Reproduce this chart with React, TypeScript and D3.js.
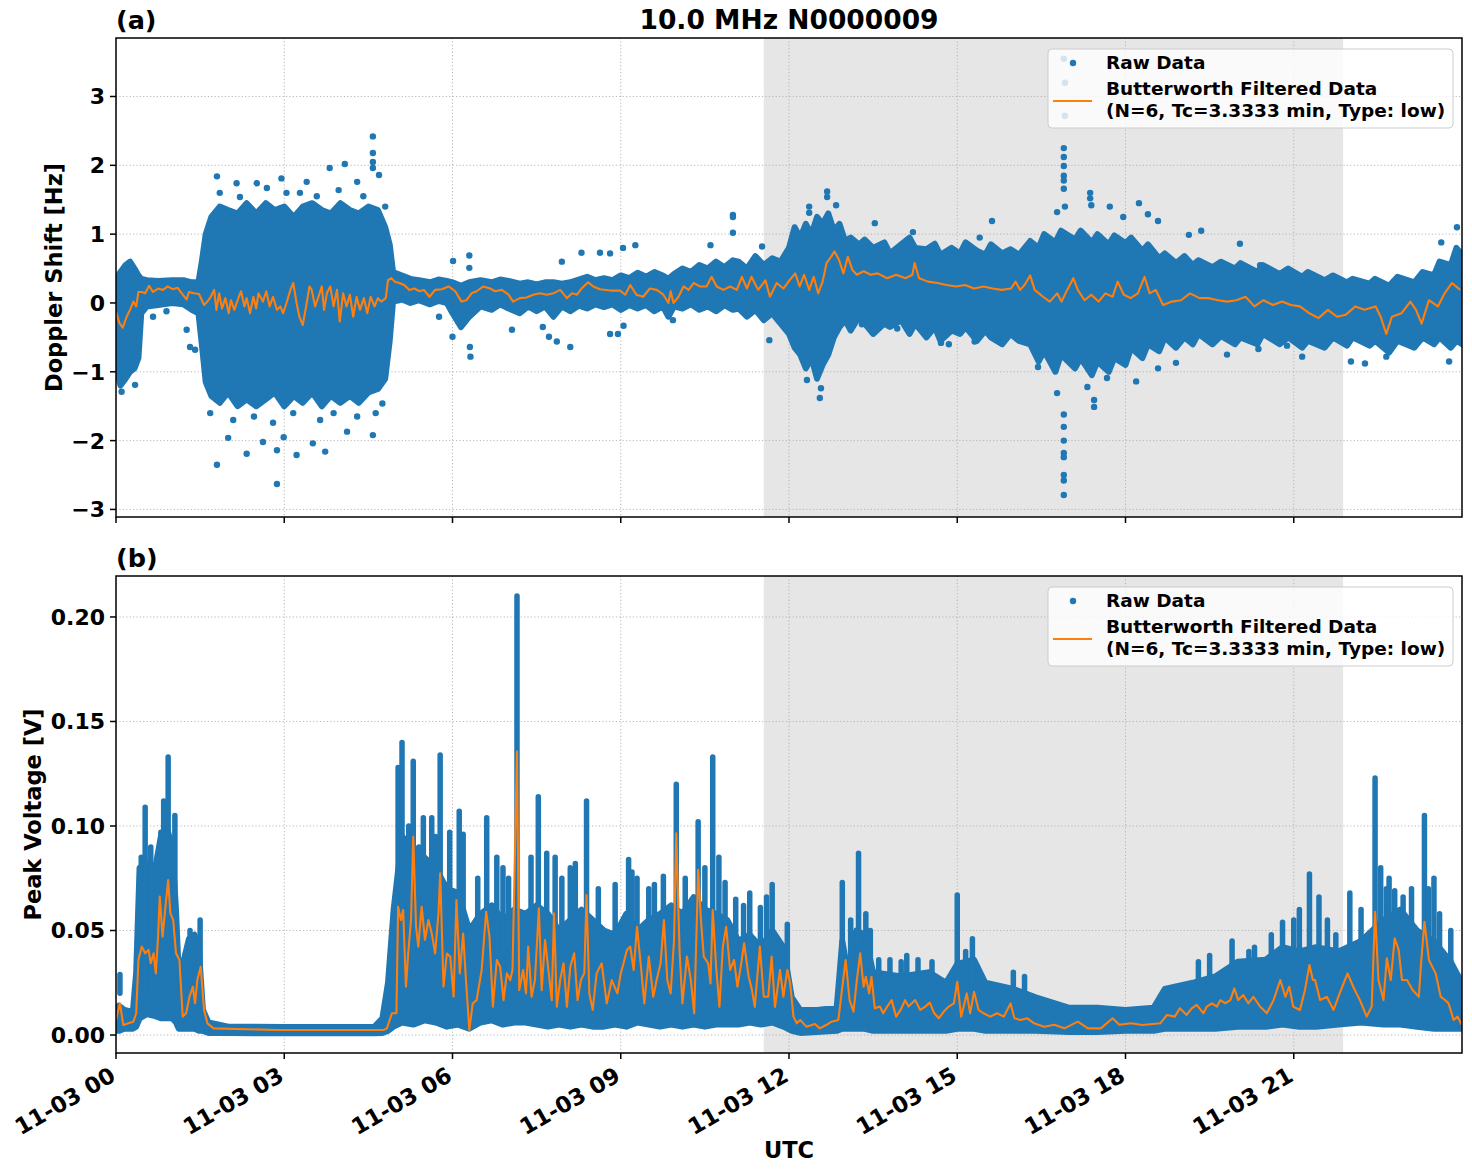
import { useEffect, useRef } from 'react';
import * as d3 from 'd3';

type Band = [number, number, number];
type Pt = [number, number];

const WIDTH = 1472;
const HEIGHT = 1172;

const BLUE = '#1f77b4';
const ORANGE = '#ff7f0e';
const FONT = '"DejaVu Sans", Verdana, sans-serif';

const hourTicks = [0, 3, 6, 9, 12, 15, 18, 21];
const hourTickLabels = ['11-03 00', '11-03 03', '11-03 06', '11-03 09', '11-03 12', '11-03 15', '11-03 18', '11-03 21'];
const dopplerTicks = [-3, -2, -1, 0, 1, 2, 3];
const voltageTicks = [0, 0.05, 0.1, 0.15, 0.2];

// grey daylight span, in hours UTC
const shadedHours = [11.55, 21.88];

// raw Doppler shift, dense part: [hour, lower, upper] in Hz
const dopplerBand: Band[] = [
  [0.0, -0.95, 0.35], [0.08, -1.2, 0.45], [0.17, -1.1, 0.55], [0.25, -1.0, 0.6], [0.33, -0.95, 0.5],
  [0.4, -0.8, 0.4], [0.45, -0.15, 0.35], [0.55, -0.05, 0.33], [0.75, -0.03, 0.32], [1.0, 0.0, 0.33],
  [1.2, -0.02, 0.33], [1.35, -0.1, 0.3], [1.47, -0.15, 0.3], [1.53, -0.6, 0.6], [1.6, -1.15, 1.0],
  [1.7, -1.35, 1.25], [1.85, -1.45, 1.4], [2.0, -1.3, 1.35], [2.17, -1.5, 1.3], [2.33, -1.4, 1.45],
  [2.5, -1.5, 1.3], [2.67, -1.4, 1.45], [2.83, -1.3, 1.35], [3.0, -1.5, 1.4], [3.17, -1.35, 1.25],
  [3.33, -1.45, 1.4], [3.5, -1.3, 1.45], [3.67, -1.5, 1.35], [3.83, -1.35, 1.3], [4.0, -1.45, 1.45],
  [4.17, -1.35, 1.35], [4.33, -1.45, 1.3], [4.5, -1.3, 1.4], [4.67, -1.25, 1.35], [4.8, -1.1, 1.1],
  [4.88, -0.55, 0.85], [4.94, 0.02, 0.45], [5.1, 0.05, 0.4], [5.25, 0.0, 0.35], [5.4, 0.04, 0.33],
  [5.6, -0.02, 0.3], [5.75, 0.03, 0.34], [5.9, 0.0, 0.32], [6.0, -0.15, 0.3], [6.15, -0.35, 0.25],
  [6.3, -0.2, 0.3], [6.5, -0.05, 0.33], [6.7, -0.1, 0.3], [6.85, -0.02, 0.34], [7.0, -0.08, 0.32],
  [7.2, -0.15, 0.28], [7.35, -0.05, 0.3], [7.5, -0.12, 0.27], [7.65, -0.05, 0.3], [7.8, -0.2, 0.3],
  [7.95, -0.05, 0.28], [8.1, -0.12, 0.3], [8.25, -0.04, 0.34], [8.4, -0.08, 0.38], [8.55, -0.02, 0.33],
  [8.7, -0.06, 0.36], [8.85, -0.02, 0.33], [9.0, -0.1, 0.4], [9.15, -0.03, 0.36], [9.3, -0.08, 0.44],
  [9.45, -0.03, 0.38], [9.6, -0.12, 0.45], [9.75, -0.05, 0.4], [9.85, -0.2, 0.35], [9.95, -0.05, 0.42],
  [10.1, -0.08, 0.5], [10.25, -0.02, 0.45], [10.4, -0.1, 0.55], [10.55, -0.05, 0.5], [10.7, -0.12, 0.6],
  [10.85, -0.03, 0.52], [11.0, -0.1, 0.62], [11.1, -0.08, 0.6], [11.25, -0.2, 0.5], [11.4, -0.1, 0.68],
  [11.55, -0.25, 0.55], [11.7, -0.15, 0.65], [11.85, -0.3, 0.6], [12.0, -0.45, 0.8], [12.1, -0.65, 1.1],
  [12.2, -0.75, 0.95], [12.3, -0.95, 1.15], [12.4, -0.8, 1.0], [12.5, -1.1, 1.25], [12.6, -0.9, 1.15],
  [12.7, -0.75, 1.3], [12.8, -0.5, 1.05], [12.9, -0.35, 1.15], [13.0, -0.25, 0.9], [13.1, -0.4, 0.95],
  [13.25, -0.2, 0.85], [13.35, -0.3, 0.92], [13.5, -0.45, 0.8], [13.7, -0.3, 0.88], [13.8, -0.35, 0.72],
  [14.0, -0.25, 0.85], [14.15, -0.45, 0.95], [14.25, -0.3, 0.8], [14.45, -0.5, 0.78], [14.6, -0.35, 0.86],
  [14.7, -0.55, 0.7], [14.9, -0.4, 0.8], [15.05, -0.45, 0.72], [15.15, -0.35, 0.88], [15.35, -0.55, 0.76],
  [15.5, -0.4, 0.7], [15.6, -0.5, 0.85], [15.8, -0.6, 0.72], [15.95, -0.45, 0.78], [16.1, -0.55, 0.7],
  [16.3, -0.6, 0.9], [16.45, -0.85, 0.8], [16.55, -0.7, 1.0], [16.75, -1.0, 0.88], [16.85, -0.75, 1.05],
  [17.1, -0.95, 0.92], [17.2, -0.8, 1.05], [17.4, -1.05, 0.88], [17.5, -0.85, 1.0], [17.7, -1.0, 0.85],
  [17.8, -0.8, 0.98], [18.0, -0.9, 0.87], [18.1, -0.65, 0.95], [18.3, -0.8, 0.76], [18.4, -0.6, 0.85],
  [18.6, -0.7, 0.65], [18.7, -0.5, 0.72], [18.9, -0.65, 0.58], [19.05, -0.5, 0.68], [19.2, -0.6, 0.55],
  [19.3, -0.45, 0.62], [19.55, -0.6, 0.52], [19.7, -0.48, 0.6], [19.95, -0.6, 0.5], [20.05, -0.5, 0.58],
  [20.35, -0.6, 0.45], [20.45, -0.45, 0.55], [20.75, -0.6, 0.42], [20.9, -0.5, 0.5], [21.15, -0.65, 0.38],
  [21.25, -0.55, 0.45], [21.55, -0.65, 0.33], [21.7, -0.5, 0.4], [21.95, -0.62, 0.3], [22.05, -0.5, 0.35],
  [22.35, -0.62, 0.28], [22.45, -0.55, 0.35], [22.7, -0.72, 0.25], [22.85, -0.55, 0.38], [23.15, -0.65, 0.3],
  [23.3, -0.5, 0.45], [23.5, -0.6, 0.4], [23.6, -0.5, 0.6], [23.8, -0.65, 0.55], [23.9, -0.55, 0.8],
  [24.0, -0.6, 0.7],
];

// raw Doppler shift, scattered samples outside the dense part: [hour, Hz]
const dopplerOutliers: Pt[] = [
  [0.1, -1.29], [0.34, -1.19], [0.25, 0.51], [0.66, -0.2], [0.9, -0.12], [1.26, -0.39], [1.32, -0.64], [1.41, -0.68],
  [1.8, -2.35], [2.0, -1.96], [2.33, -2.19], [2.62, -2.02], [2.87, -2.63], [2.87, -2.14], [2.99, -1.95], [3.22, -2.21],
  [3.51, -2.04], [3.73, -2.16], [4.12, -1.87], [4.58, -1.92],
  [1.68, -1.6], [2.09, -1.7], [2.46, -1.65], [2.8, -1.74], [3.16, -1.6], [3.64, -1.7], [3.88, -1.6], [4.3, -1.65], [4.63, -1.6], [4.75, -1.46],
  [1.8, 1.84], [2.15, 1.74], [2.51, 1.74], [2.95, 1.81], [3.04, 1.6], [3.4, 1.76], [3.81, 1.96], [4.08, 2.02], [4.3, 1.76],
  [4.58, 2.42], [4.58, 2.18], [4.58, 2.05], [4.58, 1.96], [4.69, 1.86],
  [1.85, 1.6], [2.21, 1.54], [2.69, 1.67], [3.28, 1.6], [3.58, 1.55], [3.97, 1.64], [4.41, 1.55], [4.8, 1.4],
  [5.76, -0.2], [6.01, 0.61], [6.3, 0.69], [6.3, 0.51], [6.0, -0.49], [6.31, -0.64], [6.32, -0.78],
  [7.06, -0.39], [7.61, -0.35], [7.72, -0.49], [7.86, -0.56], [8.1, -0.64], [7.95, 0.6], [8.3, 0.73], [8.63, 0.73],
  [8.81, 0.72], [8.81, -0.45], [8.95, -0.45], [9.04, 0.8], [9.26, 0.84], [9.05, -0.33], [9.93, -0.25], [10.6, 0.84],
  [11.0, 1.28], [11.0, 1.25], [11.0, 1.02], [11.65, -0.54], [11.52, 0.82],
  [12.68, 1.62], [12.68, 1.54], [12.84, 1.42], [12.36, 1.4], [12.36, 1.31], [12.55, -1.38], [12.57, -1.24], [12.32, -1.12],
  [13.53, 1.16], [14.21, 1.03], [15.62, 1.19], [15.4, 0.95], [14.71, -0.58], [14.85, -0.6], [13.3, -0.31], [13.93, -0.37], [15.31, -0.56],
  [16.78, 1.32], [16.92, 1.4], [17.37, 1.6], [17.37, 1.52], [17.39, 1.42], [17.72, 1.4], [17.96, 1.25], [18.24, 1.45],
  [18.4, 1.29], [18.58, 1.19], [19.35, 1.05], [19.13, 0.99], [20.04, 0.86], [20.4, 0.55],
  [16.44, -0.93], [16.78, -1.31], [17.32, -1.22], [17.44, -1.41], [17.44, -1.51], [17.67, -1.09], [18.19, -1.14],
  [18.58, -0.95], [18.9, -0.87], [19.81, -0.75], [20.37, -0.67], [20.88, -0.62], [21.15, -0.78], [22.02, -0.85],
  [22.27, -0.88], [22.65, -0.78], [23.77, -0.85], [23.63, 0.88], [23.91, 1.1], [22.88, 0.36],
  [16.9, 3.55], [16.92, 3.2], [16.92, 2.72], [16.9, 2.25], [16.9, 2.12], [16.9, 1.99], [16.9, 1.85], [16.9, 1.78],
  [16.9, 1.66], [16.9, -1.62], [16.9, -1.8], [16.9, -2.0], [16.9, -2.18], [16.9, -2.24], [16.9, -2.5], [16.9, -2.58], [16.9, -2.79],
];

// Butterworth low-pass output of the Doppler shift: [hour, Hz]
const dopplerFiltered: Pt[] = [
  [0.0, -0.13], [0.06, -0.29], [0.12, -0.36], [0.19, -0.2], [0.25, -0.1], [0.31, 0.02], [0.36, -0.05], [0.4, 0.16],
  [0.46, 0.16], [0.52, 0.14], [0.59, 0.25], [0.66, 0.16], [0.75, 0.21], [0.84, 0.19], [0.92, 0.24], [1.01, 0.2],
  [1.1, 0.22], [1.19, 0.12], [1.26, 0.05], [1.3, 0.16], [1.39, 0.14], [1.48, 0.13], [1.57, -0.03], [1.63, 0.02],
  [1.69, 0.09], [1.75, 0.19], [1.79, -0.1], [1.84, 0.14], [1.89, -0.08], [1.95, 0.07], [2.01, -0.15], [2.05, 0.04],
  [2.11, -0.1], [2.19, 0.09], [2.23, 0.17], [2.29, -0.05], [2.33, 0.07], [2.39, -0.15], [2.45, 0.09], [2.5, -0.08],
  [2.54, 0.14], [2.62, 0.02], [2.68, 0.17], [2.74, -0.05], [2.8, 0.09], [2.87, -0.1], [2.93, -0.05], [2.98, -0.15],
  [3.04, 0.0], [3.11, 0.19], [3.16, 0.29], [3.22, 0.0], [3.27, -0.2], [3.33, -0.32], [3.39, -0.05], [3.45, 0.24],
  [3.49, 0.19], [3.55, -0.05], [3.61, 0.09], [3.67, 0.24], [3.71, -0.1], [3.76, 0.14], [3.82, 0.24], [3.88, -0.05],
  [3.94, 0.19], [3.99, -0.27], [4.05, 0.14], [4.11, -0.05], [4.17, 0.12], [4.23, -0.2], [4.29, 0.09], [4.35, -0.1],
  [4.42, 0.07], [4.48, -0.15], [4.54, 0.09], [4.61, -0.05], [4.67, 0.07], [4.73, 0.02], [4.81, 0.07], [4.85, 0.33],
  [4.91, 0.36], [4.97, 0.31], [5.05, 0.29], [5.14, 0.26], [5.23, 0.19], [5.32, 0.21], [5.41, 0.17], [5.49, 0.19],
  [5.59, 0.09], [5.69, 0.19], [5.81, 0.2], [5.93, 0.24], [6.05, 0.17], [6.16, 0.02], [6.25, 0.04], [6.34, 0.14],
  [6.43, 0.17], [6.55, 0.24], [6.67, 0.21], [6.76, 0.17], [6.88, 0.19], [7.0, 0.12], [7.08, 0.02], [7.2, 0.07],
  [7.32, 0.08], [7.44, 0.12], [7.56, 0.14], [7.68, 0.12], [7.8, 0.14], [7.92, 0.19], [8.04, 0.07], [8.13, 0.14],
  [8.22, 0.12], [8.3, 0.21], [8.42, 0.3], [8.51, 0.24], [8.63, 0.2], [8.81, 0.18], [8.99, 0.18], [9.08, 0.12],
  [9.17, 0.26], [9.28, 0.12], [9.4, 0.09], [9.52, 0.21], [9.64, 0.19], [9.76, 0.12], [9.85, 0.0], [9.89, 0.17],
  [9.94, 0.0], [10.03, 0.09], [10.12, 0.24], [10.21, 0.19], [10.3, 0.29], [10.41, 0.24], [10.53, 0.24], [10.62, 0.38],
  [10.71, 0.24], [10.83, 0.19], [10.95, 0.24], [11.07, 0.19], [11.16, 0.38], [11.25, 0.21], [11.33, 0.38], [11.45, 0.19],
  [11.58, 0.33], [11.66, 0.09], [11.78, 0.29], [11.9, 0.21], [12.01, 0.33], [12.11, 0.43], [12.19, 0.24], [12.27, 0.41],
  [12.36, 0.19], [12.44, 0.38], [12.52, 0.14], [12.6, 0.31], [12.67, 0.58], [12.75, 0.67], [12.81, 0.75], [12.89, 0.63],
  [12.97, 0.43], [13.05, 0.67], [13.13, 0.48], [13.21, 0.41], [13.33, 0.46], [13.46, 0.41], [13.58, 0.43], [13.75, 0.36],
  [13.91, 0.41], [14.08, 0.36], [14.2, 0.41], [14.24, 0.58], [14.32, 0.36], [14.48, 0.31], [14.65, 0.29], [14.81, 0.26],
  [14.98, 0.24], [15.14, 0.26], [15.3, 0.21], [15.47, 0.24], [15.63, 0.21], [15.79, 0.19], [15.96, 0.21], [16.04, 0.31],
  [16.12, 0.19], [16.2, 0.26], [16.3, 0.4], [16.38, 0.19], [16.53, 0.09], [16.65, 0.02], [16.78, 0.14], [16.86, 0.02],
  [16.96, 0.19], [17.07, 0.36], [17.15, 0.19], [17.27, 0.04], [17.39, 0.12], [17.52, 0.02], [17.64, 0.14], [17.77, 0.09],
  [17.86, 0.31], [17.97, 0.12], [18.09, 0.07], [18.22, 0.14], [18.34, 0.38], [18.43, 0.14], [18.54, 0.19], [18.67, -0.03],
  [18.83, 0.02], [18.99, 0.04], [19.15, 0.14], [19.32, 0.07], [19.48, 0.07], [19.65, 0.04], [19.81, 0.02], [19.98, 0.04],
  [20.14, 0.09], [20.3, -0.05], [20.46, 0.04], [20.63, -0.03], [20.79, 0.02], [20.95, -0.03], [21.11, -0.05], [21.28, -0.15],
  [21.44, -0.22], [21.61, -0.1], [21.77, -0.2], [21.93, -0.17], [22.1, -0.05], [22.26, -0.1], [22.46, -0.05], [22.55, -0.2],
  [22.65, -0.45], [22.75, -0.2], [22.92, -0.15], [23.08, 0.02], [23.18, -0.1], [23.28, -0.3], [23.41, 0.04], [23.57, -0.05],
  [23.69, 0.14], [23.82, 0.29], [23.97, 0.19],
];

// raw peak voltage, dense part: [hour, lower, upper] in V
const voltageBand: Band[] = [
  [0.0, 0.002, 0.012], [0.05, 0.002, 0.014], [0.15, 0.003, 0.012], [0.3, 0.003, 0.011], [0.36, 0.004, 0.03],
  [0.42, 0.008, 0.08], [0.55, 0.01, 0.082], [0.7, 0.009, 0.08], [0.8, 0.008, 0.095], [0.9, 0.008, 0.1],
  [1.0, 0.008, 0.09], [1.07, 0.006, 0.06], [1.12, 0.003, 0.028], [1.2, 0.003, 0.035], [1.3, 0.003, 0.046],
  [1.4, 0.003, 0.048], [1.48, 0.002, 0.04], [1.55, 0.002, 0.012], [1.65, 0.001, 0.006], [2.0, 0.001, 0.004],
  [3.0, 0.0008, 0.0038], [4.6, 0.0008, 0.0038], [4.75, 0.001, 0.008], [4.85, 0.002, 0.025], [4.95, 0.004, 0.06],
  [5.1, 0.006, 0.095], [5.3, 0.005, 0.09], [5.5, 0.007, 0.085], [5.7, 0.006, 0.08], [5.9, 0.004, 0.07],
  [6.1, 0.005, 0.068], [6.3, 0.003, 0.05], [6.5, 0.006, 0.058], [6.7, 0.007, 0.062], [6.9, 0.005, 0.055],
  [7.1, 0.006, 0.06], [7.3, 0.006, 0.058], [7.5, 0.005, 0.062], [7.7, 0.004, 0.058], [7.9, 0.005, 0.05],
  [8.1, 0.004, 0.055], [8.3, 0.005, 0.06], [8.5, 0.004, 0.055], [8.7, 0.004, 0.05], [8.9, 0.005, 0.048],
  [9.1, 0.004, 0.058], [9.3, 0.006, 0.05], [9.5, 0.005, 0.055], [9.7, 0.004, 0.058], [9.9, 0.005, 0.062],
  [10.1, 0.004, 0.058], [10.3, 0.005, 0.066], [10.5, 0.004, 0.06], [10.7, 0.005, 0.058], [10.9, 0.005, 0.055],
  [11.1, 0.005, 0.045], [11.3, 0.006, 0.048], [11.5, 0.005, 0.042], [11.7, 0.006, 0.05], [11.9, 0.004, 0.042],
  [12.05, 0.002, 0.018], [12.2, 0.001, 0.012], [12.5, 0.0015, 0.012], [12.85, 0.002, 0.013], [12.95, 0.003, 0.045],
  [13.05, 0.003, 0.03], [13.2, 0.003, 0.05], [13.35, 0.003, 0.048], [13.5, 0.002, 0.03], [14.0, 0.002, 0.028],
  [14.5, 0.002, 0.03], [14.8, 0.002, 0.025], [15.0, 0.003, 0.034], [15.3, 0.003, 0.036], [15.5, 0.002, 0.025],
  [16.0, 0.002, 0.022], [16.4, 0.002, 0.018], [17.0, 0.0015, 0.013], [17.5, 0.0015, 0.013], [18.0, 0.002, 0.012],
  [18.5, 0.002, 0.013], [18.7, 0.003, 0.022], [19.2, 0.003, 0.025], [19.6, 0.003, 0.028], [20.0, 0.004, 0.035],
  [20.5, 0.004, 0.036], [20.8, 0.005, 0.042], [21.1, 0.004, 0.04], [21.4, 0.004, 0.042], [21.8, 0.005, 0.04],
  [22.2, 0.006, 0.045], [22.6, 0.005, 0.055], [22.9, 0.005, 0.06], [23.2, 0.004, 0.05], [23.5, 0.003, 0.045],
  [23.8, 0.003, 0.035], [24.0, 0.003, 0.025],
];

// short bursts of raw peak voltage rising above the dense part: [hour, top in V]
const voltageSpikes: Pt[] = [
  [0.07, 0.029], [0.45, 0.085], [0.52, 0.109], [0.62, 0.09], [0.8, 0.097], [0.85, 0.112], [0.93, 0.133], [1.05, 0.105],
  [1.32, 0.05], [1.5, 0.055], [5.03, 0.128], [5.1, 0.14], [5.22, 0.1], [5.3, 0.131], [5.4, 0.09], [5.48, 0.104],
  [5.63, 0.104], [5.7, 0.095], [5.78, 0.134], [5.95, 0.097], [6.12, 0.107], [6.19, 0.096], [6.45, 0.075], [6.61, 0.104],
  [6.79, 0.085], [6.9, 0.08], [7.0, 0.075], [7.15, 0.21], [7.4, 0.085], [7.53, 0.114], [7.68, 0.087], [7.83, 0.085],
  [7.95, 0.075], [8.1, 0.08], [8.19, 0.082], [8.39, 0.112], [8.6, 0.07], [8.9, 0.072], [9.14, 0.084], [9.2, 0.078],
  [9.29, 0.075], [9.5, 0.07], [9.6, 0.072], [9.76, 0.076], [9.99, 0.12], [10.15, 0.075], [10.38, 0.102], [10.5, 0.08],
  [10.64, 0.133], [10.75, 0.085], [10.86, 0.073], [11.05, 0.065], [11.19, 0.062], [11.3, 0.068], [11.49, 0.061],
  [11.6, 0.066], [11.7, 0.072], [11.97, 0.053], [12.95, 0.073], [13.1, 0.055], [13.24, 0.087], [13.37, 0.058],
  [13.45, 0.05], [13.6, 0.036], [13.8, 0.036], [14.0, 0.035], [14.1, 0.038], [14.3, 0.036], [14.55, 0.035],
  [15.0, 0.067], [15.15, 0.04], [15.27, 0.046], [16.0, 0.03], [16.2, 0.028], [19.3, 0.035], [19.5, 0.038],
  [19.9, 0.045], [20.2, 0.04], [20.3, 0.042], [20.6, 0.048], [20.8, 0.054], [21.0, 0.055], [21.1, 0.06],
  [21.28, 0.077], [21.45, 0.066], [21.6, 0.055], [21.75, 0.048], [22.0, 0.068], [22.2, 0.06], [22.45, 0.123],
  [22.55, 0.08], [22.65, 0.07], [22.7, 0.075], [22.8, 0.069], [22.95, 0.066], [23.1, 0.07], [23.33, 0.105],
  [23.4, 0.07], [23.5, 0.075], [23.6, 0.058], [23.8, 0.05],
];

// Butterworth low-pass output of the peak voltage: [hour, V]
const voltageFiltered: Pt[] = [
  [0.0, 0.0072], [0.07, 0.0152], [0.13, 0.0048], [0.22, 0.0056], [0.31, 0.0064], [0.36, 0.0104], [0.4, 0.036], [0.46, 0.0423],
  [0.52, 0.0391], [0.58, 0.0407], [0.62, 0.0343], [0.67, 0.0391], [0.71, 0.0295], [0.75, 0.047], [0.78, 0.0662], [0.83, 0.047],
  [0.87, 0.0582], [0.93, 0.0741], [0.97, 0.0582], [1.02, 0.055], [1.07, 0.0391], [1.13, 0.036], [1.19, 0.0088], [1.25, 0.0104],
  [1.31, 0.0183], [1.37, 0.0231], [1.41, 0.0152], [1.45, 0.0263], [1.51, 0.0327], [1.57, 0.012], [1.63, 0.0056], [1.74, 0.0032],
  [2.87, 0.0024], [4.77, 0.0024], [4.83, 0.0032], [4.92, 0.0104], [5.0, 0.0104], [5.03, 0.0614], [5.08, 0.055], [5.12, 0.0598],
  [5.17, 0.0231], [5.21, 0.039], [5.26, 0.055], [5.3, 0.0949], [5.35, 0.0518], [5.39, 0.0423], [5.45, 0.0614], [5.51, 0.0455],
  [5.57, 0.055], [5.63, 0.0486], [5.69, 0.039], [5.75, 0.0582], [5.78, 0.0774], [5.84, 0.0231], [5.9, 0.039], [5.96, 0.0375],
  [6.02, 0.0183], [6.07, 0.0646], [6.13, 0.0295], [6.19, 0.0486], [6.24, 0.0263], [6.3, 0.0024], [6.36, 0.0151], [6.43, 0.0167],
  [6.52, 0.0311], [6.6, 0.059], [6.66, 0.047], [6.72, 0.0135], [6.79, 0.0359], [6.85, 0.0327], [6.91, 0.0167], [6.97, 0.0295],
  [7.03, 0.0263], [7.07, 0.0311], [7.15, 0.1356], [7.19, 0.0215], [7.26, 0.0311], [7.31, 0.0199], [7.35, 0.0423], [7.41, 0.0183],
  [7.47, 0.0263], [7.54, 0.0606], [7.59, 0.0215], [7.65, 0.0454], [7.71, 0.0311], [7.77, 0.0167], [7.81, 0.0582], [7.86, 0.0135],
  [7.92, 0.0263], [7.98, 0.0343], [8.04, 0.0135], [8.1, 0.0327], [8.17, 0.0391], [8.23, 0.0167], [8.29, 0.0263], [8.35, 0.0295],
  [8.39, 0.067], [8.44, 0.0199], [8.5, 0.012], [8.57, 0.0295], [8.66, 0.0343], [8.75, 0.0151], [8.84, 0.0263], [8.94, 0.0199],
  [9.0, 0.0295], [9.05, 0.0343], [9.11, 0.0407], [9.17, 0.0423], [9.23, 0.0311], [9.29, 0.0518], [9.36, 0.0327], [9.42, 0.0151],
  [9.5, 0.0375], [9.58, 0.0183], [9.64, 0.0263], [9.71, 0.0343], [9.77, 0.055], [9.83, 0.0263], [9.89, 0.0199], [9.95, 0.0454],
  [9.99, 0.0965], [10.05, 0.0391], [10.1, 0.0151], [10.18, 0.0375], [10.25, 0.0263], [10.31, 0.0104], [10.36, 0.0582], [10.38, 0.079],
  [10.43, 0.055], [10.48, 0.0375], [10.56, 0.0343], [10.6, 0.0247], [10.64, 0.0598], [10.7, 0.0327], [10.76, 0.0135], [10.82, 0.0423],
  [10.88, 0.0518], [10.95, 0.0311], [11.02, 0.0359], [11.08, 0.0231], [11.14, 0.0327], [11.2, 0.0439], [11.28, 0.028], [11.34, 0.0215],
  [11.39, 0.0135], [11.48, 0.0423], [11.55, 0.0183], [11.63, 0.0183], [11.69, 0.0375], [11.75, 0.0135], [11.84, 0.0311], [11.9, 0.0183],
  [11.97, 0.0311], [12.02, 0.0247], [12.08, 0.0088], [12.14, 0.0056], [12.2, 0.0072], [12.31, 0.004], [12.46, 0.0053], [12.55, 0.0032],
  [12.67, 0.0049], [12.76, 0.0064], [12.88, 0.0072], [12.94, 0.0207], [13.01, 0.0359], [13.08, 0.0167], [13.15, 0.0112], [13.21, 0.0263],
  [13.27, 0.0391], [13.33, 0.0231], [13.37, 0.0279], [13.43, 0.0199], [13.47, 0.0279], [13.53, 0.0128], [13.62, 0.0136], [13.68, 0.0104],
  [13.75, 0.0136], [13.83, 0.0167], [13.91, 0.0088], [13.99, 0.012], [14.07, 0.0167], [14.13, 0.0136], [14.25, 0.0167], [14.34, 0.012],
  [14.43, 0.0136], [14.51, 0.0155], [14.59, 0.0104], [14.67, 0.008], [14.76, 0.0112], [14.85, 0.0136], [14.94, 0.0151], [15.0, 0.0255],
  [15.07, 0.0088], [15.17, 0.0199], [15.23, 0.0104], [15.3, 0.0207], [15.38, 0.012], [15.47, 0.0104], [15.59, 0.0088], [15.71, 0.0104],
  [15.83, 0.0088], [15.95, 0.0151], [16.02, 0.008], [16.13, 0.0072], [16.25, 0.008], [16.37, 0.0056], [16.55, 0.004], [16.73, 0.0049],
  [16.91, 0.0032], [17.15, 0.0064], [17.33, 0.0032], [17.56, 0.0032], [17.77, 0.008], [17.89, 0.0049], [18.1, 0.0056], [18.3, 0.0048],
  [18.62, 0.0056], [18.74, 0.0096], [18.88, 0.0088], [18.97, 0.0128], [19.09, 0.0096], [19.18, 0.0128], [19.27, 0.0144], [19.39, 0.0104],
  [19.45, 0.0136], [19.54, 0.0152], [19.63, 0.0136], [19.69, 0.0167], [19.78, 0.0152], [19.87, 0.0167], [19.94, 0.0223], [20.01, 0.0167],
  [20.1, 0.0191], [20.19, 0.0152], [20.28, 0.0183], [20.4, 0.0136], [20.52, 0.0104], [20.64, 0.0167], [20.76, 0.0263], [20.85, 0.0183],
  [20.92, 0.0231], [20.99, 0.0136], [21.11, 0.012], [21.2, 0.0215], [21.28, 0.0335], [21.34, 0.0263], [21.38, 0.0263], [21.47, 0.0167],
  [21.59, 0.0183], [21.71, 0.012], [21.82, 0.02], [21.96, 0.0295], [22.06, 0.0231], [22.18, 0.0167], [22.3, 0.0088], [22.39, 0.0136],
  [22.45, 0.059], [22.51, 0.0263], [22.6, 0.0167], [22.66, 0.0367], [22.73, 0.0263], [22.8, 0.0463], [22.87, 0.0407], [22.93, 0.0263],
  [23.02, 0.0263], [23.12, 0.0215], [23.23, 0.0183], [23.27, 0.0343], [23.33, 0.0542], [23.41, 0.0359], [23.53, 0.0295], [23.62, 0.0183],
  [23.7, 0.0167], [23.76, 0.0152], [23.85, 0.0072], [23.92, 0.0088], [24.0, 0.0048],
];

const LEFT = 116;
const RIGHT = 1462;

interface Panel {
  key: string;
  tag: string;
  top: number;
  bottom: number;
  yDomain: [number, number];
  ticks: number[];
  format: (v: number) => string;
  label: string;
  labelX: number;
  band: Band[];
  points: Pt[];
  spikes: Pt[];
  spikeBase: number;
  filtered: Pt[];
}

export default function App() {
  const svgRef = useRef<SVGSVGElement>(null);

  useEffect(() => {
    if (!svgRef.current) return;
    const svg = d3.select(svgRef.current);
    svg.selectAll('*').remove();

    const x = d3.scaleLinear().domain([0, 24]).range([LEFT, RIGHT]);

    const panels: Panel[] = [
      {
        key: 'doppler', tag: '(a)', top: 38, bottom: 517, yDomain: [-3.11, 3.85], ticks: dopplerTicks,
        format: d3.format('d'), label: 'Doppler Shift [Hz]', labelX: 62,
        band: dopplerBand, points: dopplerOutliers, spikes: [], spikeBase: 0, filtered: dopplerFiltered,
      },
      {
        key: 'voltage', tag: '(b)', top: 576, bottom: 1053, yDomain: [-0.0086, 0.2196], ticks: voltageTicks,
        format: d3.format('.2f'), label: 'Peak Voltage [V]', labelX: 41,
        band: voltageBand, points: [], spikes: voltageSpikes, spikeBase: 0.02, filtered: voltageFiltered,
      },
    ];

    panels.forEach((p) => {
      const y = d3.scaleLinear().domain(p.yDomain).range([p.bottom, p.top]);
      const g = svg.append('g');
      const clipId = `clip-${p.key}`;
      g.append('clipPath').attr('id', clipId)
        .append('rect').attr('x', LEFT).attr('y', p.top).attr('width', RIGHT - LEFT).attr('height', p.bottom - p.top);

      const plot = g.append('g').attr('clip-path', `url(#${clipId})`);

      // daylight span
      plot.append('rect')
        .attr('x', x(shadedHours[0])).attr('y', p.top)
        .attr('width', x(shadedHours[1]) - x(shadedHours[0])).attr('height', p.bottom - p.top)
        .attr('fill', '#e6e6e6');

      // dotted grid
      const grid = plot.append('g').attr('stroke', '#b0b0b0').attr('stroke-width', 0.9).attr('stroke-dasharray', '1.2,2.2');
      hourTicks.forEach((h) => {
        grid.append('line').attr('x1', x(h)).attr('x2', x(h)).attr('y1', p.top).attr('y2', p.bottom);
      });
      p.ticks.forEach((t) => {
        grid.append('line').attr('x1', LEFT).attr('x2', RIGHT).attr('y1', y(t)).attr('y2', y(t));
      });

      // raw data: dense envelope
      const area = d3.area<Band>().x((d) => x(d[0])).y0((d) => y(d[1])).y1((d) => y(d[2]));
      plot.append('path').datum(p.band).attr('d', area)
        .attr('fill', BLUE).attr('stroke', BLUE).attr('stroke-width', 6).attr('stroke-linejoin', 'round');

      // raw data: bursts
      plot.selectAll('line.spike').data(p.spikes).enter().append('line')
        .attr('class', 'spike')
        .attr('x1', (d) => x(d[0])).attr('x2', (d) => x(d[0]))
        .attr('y1', y(p.spikeBase)).attr('y2', (d) => y(d[1]))
        .attr('stroke', BLUE).attr('stroke-width', 5.5).attr('stroke-linecap', 'round');

      // raw data: scattered samples
      plot.selectAll('circle.raw').data(p.points).enter().append('circle')
        .attr('class', 'raw')
        .attr('cx', (d) => x(d[0])).attr('cy', (d) => y(d[1])).attr('r', 3.2)
        .attr('fill', BLUE);

      // filtered series
      const line = d3.line<Pt>().x((d) => x(d[0])).y((d) => y(d[1]));
      plot.append('path').datum(p.filtered).attr('d', line)
        .attr('fill', 'none').attr('stroke', ORANGE).attr('stroke-width', 2.1).attr('stroke-linejoin', 'round');

      // frame
      g.append('rect').attr('x', LEFT).attr('y', p.top).attr('width', RIGHT - LEFT).attr('height', p.bottom - p.top)
        .attr('fill', 'none').attr('stroke', '#000').attr('stroke-width', 1.5);

      // y ticks
      p.ticks.forEach((t) => {
        g.append('line').attr('x1', LEFT - 6).attr('x2', LEFT).attr('y1', y(t)).attr('y2', y(t))
          .attr('stroke', '#000').attr('stroke-width', 1.5);
        g.append('text').attr('x', LEFT - 11).attr('y', y(t)).attr('dy', '0.36em')
          .attr('text-anchor', 'end').attr('font-family', FONT).attr('font-weight', 'bold').attr('font-size', 22)
          .text(p.format(t));
      });

      // x ticks
      hourTicks.forEach((h) => {
        g.append('line').attr('x1', x(h)).attr('x2', x(h)).attr('y1', p.bottom).attr('y2', p.bottom + 6)
          .attr('stroke', '#000').attr('stroke-width', 1.5);
      });

      // y label
      const cy = (p.top + p.bottom) / 2;
      g.append('text').attr('transform', `translate(${p.labelX},${cy}) rotate(-90)`)
        .attr('text-anchor', 'middle').attr('font-family', FONT).attr('font-weight', 'bold').attr('font-size', 22.5)
        .text(p.label);

      // panel tag
      g.append('text').attr('x', LEFT).attr('y', p.top - 9)
        .attr('font-family', FONT).attr('font-weight', 'bold').attr('font-size', 25.5)
        .text(p.tag);

      // legend
      const lg = g.append('g').attr('font-family', FONT).attr('font-weight', 'bold').attr('font-size', 18.5);
      const ly = p.top + 11;
      lg.append('rect').attr('x', 1048).attr('y', ly).attr('width', 405).attr('height', 79).attr('rx', 4)
        .attr('fill', '#fff').attr('fill-opacity', 0.8).attr('stroke', '#cccccc').attr('stroke-width', 1);
      lg.append('circle').attr('cx', 1073).attr('cy', ly + 14).attr('r', 3.2).attr('fill', BLUE);
      lg.append('text').attr('x', 1106).attr('y', ly + 20).text('Raw Data');
      lg.append('line').attr('x1', 1053).attr('x2', 1092).attr('y1', ly + 52).attr('y2', ly + 52)
        .attr('stroke', ORANGE).attr('stroke-width', 2.1);
      lg.append('text').attr('x', 1106).attr('y', ly + 46).text('Butterworth Filtered Data');
      lg.append('text').attr('x', 1106).attr('y', ly + 68).text('(N=6, Tc=3.3333 min, Type: low)');
    });

    // title
    svg.append('text').attr('x', (LEFT + RIGHT) / 2).attr('y', 29).attr('text-anchor', 'middle')
      .attr('font-family', FONT).attr('font-weight', 'bold').attr('font-size', 26.5)
      .text('10.0 MHz N0000009');

    // rotated date labels under the lower panel
    const axisBottom = panels[1].bottom;
    hourTicks.forEach((h, i) => {
      const ax = x(h) + 1;
      const ay = axisBottom + 27;
      svg.append('text').attr('x', ax).attr('y', ay)
        .attr('transform', `rotate(-30,${ax},${ay})`)
        .attr('text-anchor', 'end').attr('font-family', FONT).attr('font-weight', 'bold').attr('font-size', 22.5)
        .text(hourTickLabels[i]);
    });

    svg.append('text').attr('x', (LEFT + RIGHT) / 2).attr('y', 1158).attr('text-anchor', 'middle')
      .attr('font-family', FONT).attr('font-weight', 'bold').attr('font-size', 22.5)
      .text('UTC');
  }, []);

  return (
    <svg
      ref={svgRef}
      width={WIDTH}
      height={HEIGHT}
      style={{ position: 'absolute', left: 0, top: 0, background: '#fff' }}
    />
  );
}
